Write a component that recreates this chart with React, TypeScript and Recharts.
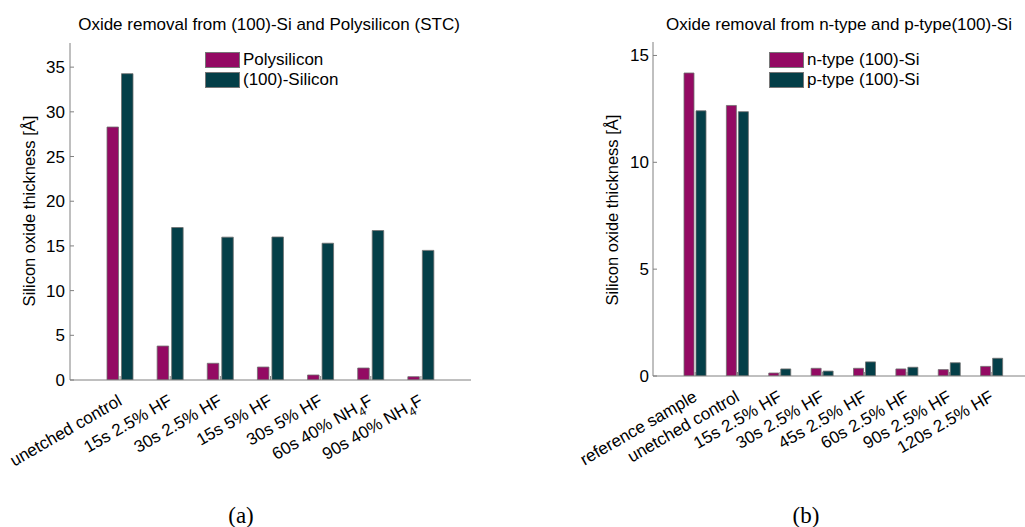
import React from 'react';
import { BarChart, Bar, XAxis, YAxis, Legend } from 'recharts';

const leftCategories = ['unetched control', '15s 2.5% HF', '30s 2.5% HF', '15s 5% HF', '30s 5% HF', '60s 40% NH4F', '90s 40% NH4F'];
const polysilicon = [28.3, 3.8, 1.87, 1.45, 0.56, 1.34, 0.37];
const silicon100 = [34.27, 17.06, 15.98, 16.0, 15.3, 16.72, 14.5];
const leftYTicks = [0, 5, 10, 15, 20, 25, 30, 35];
const leftSeriesNames = ['Polysilicon', '(100)-Silicon'];

const rightCategories = ['reference sample', 'unetched control', '15s 2.5% HF', '30s 2.5% HF', '45s 2.5% HF', '60s 2.5% HF', '90s 2.5% HF', '120s 2.5% HF'];
const nType = [14.18, 12.66, 0.14, 0.36, 0.36, 0.33, 0.3, 0.45];
const pType = [12.41, 12.37, 0.33, 0.23, 0.66, 0.41, 0.62, 0.83];
const rightYTicks = [0, 5, 10, 15];
const rightSeriesNames = ['n-type (100)-Si', 'p-type (100)-Si'];

const MAGENTA = '#930a63';
const TEAL = '#043f48';
const AXIS = '#808080';
const FONT = '"Liberation Sans", Arial, Helvetica, sans-serif';
const FS = 17;

const leftData = leftCategories.map((c, i) => ({ name: c, poly: polysilicon[i], si: silicon100[i] }));
const rightData = rightCategories.map((c, i) => ({ name: c, n: nType[i], p: pType[i] }));

const XTick = (props: any) => {
  const { x, y, payload } = props;
  const label: string = String(payload.value);
  const ax = x + 3;
  const ay = y + 14;
  const idx = label.indexOf('NH4F');
  return (
    <text
      x={ax}
      y={ay}
      transform={`rotate(-30, ${ax}, ${ay})`}
      textAnchor="end"
      fontSize={FS}
      fontFamily={FONT}
      fill="#000"
    >
      {idx >= 0 ? (
        <>
          {label.slice(0, idx) + 'NH'}
          <tspan fontSize={12} dy={5}>4</tspan>
          <tspan dy={-5}>F</tspan>
        </>
      ) : (
        label
      )}
    </text>
  );
};

const LegendContent = (props: any) => {
  const { payload, order } = props;
  const items = [...(payload || [])].sort(
    (a: any, b: any) => order.indexOf(a.value) - order.indexOf(b.value)
  );
  return (
    <div style={{ fontFamily: FONT, fontSize: FS, lineHeight: '20px' }}>
      {items.map((p: any) => (
        <div key={p.value} style={{ display: 'flex', alignItems: 'center', height: 20 }}>
          <span
            style={{
              display: 'inline-block',
              width: 33,
              height: 14,
              background: p.color,
              border: '1px solid #777',
              marginRight: 3,
            }}
          />
          <span style={{ color: '#000' }}>{p.value}</span>
        </div>
      ))}
    </div>
  );
};

const tickStyle = { fontSize: FS, fontFamily: FONT, fill: '#000' };

export default function App() {
  return (
    <div style={{ position: 'absolute', left: 0, top: 0, width: 1025, height: 527, overflow: 'hidden', background: '#fff' }}>
      <div style={{ position: 'absolute', left: 0, top: 0 }}>
        <BarChart
          width={500}
          height={527}
          data={leftData}
          margin={{ top: 43, right: 29, bottom: 67, left: 10 }}
          barSize={11.5}
          barGap={3}
        >
          <XAxis
            dataKey="name"
            xAxisId="bottom"
            height={80}
            interval={0}
            padding={{ left: 25, right: 25 }}
            tickSize={-4}
            tickMargin={14}
            tick={<XTick />}
            axisLine={{ stroke: AXIS }}
            tickLine={{ stroke: AXIS }}
          />
          <XAxis
            dataKey="name"
            xAxisId="top"
            orientation="top"
            height={0}
            interval={0}
            padding={{ left: 25, right: 25 }}
            tickSize={-4}
            tick={false}
            axisLine={{ stroke: AXIS }}
            tickLine={{ stroke: AXIS }}
          />
          <YAxis
            yAxisId="left"
            type="number"
            width={60}
            domain={[0, 37.7]}
            ticks={leftYTicks}
            allowDataOverflow
            tickSize={-4}
            tickMargin={9}
            tick={tickStyle}
            axisLine={{ stroke: AXIS }}
            tickLine={{ stroke: AXIS }}
          />
          <YAxis
            yAxisId="right"
            orientation="right"
            type="number"
            width={0}
            domain={[0, 37.7]}
            ticks={leftYTicks}
            allowDataOverflow
            tickSize={-4}
            tick={false}
            axisLine={{ stroke: AXIS }}
            tickLine={{ stroke: AXIS }}
          />
          <Legend
            layout="vertical"
            align="center"
            verticalAlign="middle"
            content={<LegendContent order={leftSeriesNames} />}
            wrapperStyle={{ left: 205, top: 50, width: 'auto', height: 'auto' }}
          />
          <Bar dataKey="poly" name={leftSeriesNames[0]} xAxisId="bottom" yAxisId="left" fill={MAGENTA} stroke="#6e6e6e" strokeWidth={0.8} isAnimationActive={false} />
          <Bar dataKey="si" name={leftSeriesNames[1]} xAxisId="bottom" yAxisId="left" fill={TEAL} stroke="#6e6e6e" strokeWidth={0.8} isAnimationActive={false} />
        </BarChart>
      </div>
      <div style={{ position: 'absolute', left: 560, top: 0 }}>
        <BarChart
          width={500}
          height={527}
          data={rightData}
          margin={{ top: 42, right: 26, bottom: 71, left: 33 }}
          barSize={10}
          barGap={2}
        >
          <XAxis
            dataKey="name"
            xAxisId="bottom"
            height={80}
            interval={0}
            padding={{ left: 21, right: 21 }}
            tickSize={-4}
            tickMargin={14}
            tick={<XTick />}
            axisLine={{ stroke: AXIS }}
            tickLine={{ stroke: AXIS }}
          />
          <XAxis
            dataKey="name"
            xAxisId="top"
            orientation="top"
            height={0}
            interval={0}
            padding={{ left: 21, right: 21 }}
            tickSize={-4}
            tick={false}
            axisLine={{ stroke: AXIS }}
            tickLine={{ stroke: AXIS }}
          />
          <YAxis
            yAxisId="left"
            type="number"
            width={60}
            domain={[0, 15.63]}
            ticks={rightYTicks}
            allowDataOverflow
            tickSize={-4}
            tickMargin={8}
            tick={tickStyle}
            axisLine={{ stroke: AXIS }}
            tickLine={{ stroke: AXIS }}
          />
          <YAxis
            yAxisId="right"
            orientation="right"
            type="number"
            width={0}
            domain={[0, 15.63]}
            ticks={rightYTicks}
            allowDataOverflow
            tickSize={-4}
            tick={false}
            axisLine={{ stroke: AXIS }}
            tickLine={{ stroke: AXIS }}
          />
          <Legend
            layout="vertical"
            align="center"
            verticalAlign="middle"
            content={<LegendContent order={rightSeriesNames} />}
            wrapperStyle={{ left: 209, top: 50, width: 'auto', height: 'auto' }}
          />
          <Bar dataKey="n" name={rightSeriesNames[0]} xAxisId="bottom" yAxisId="left" fill={MAGENTA} stroke="#6e6e6e" strokeWidth={0.8} isAnimationActive={false} />
          <Bar dataKey="p" name={rightSeriesNames[1]} xAxisId="bottom" yAxisId="left" fill={TEAL} stroke="#6e6e6e" strokeWidth={0.8} isAnimationActive={false} />
        </BarChart>
      </div>
      <svg width={1025} height={527} style={{ position: 'absolute', left: 0, top: 0, pointerEvents: 'none' }}>
        <text x={269} y={30} textAnchor="middle" fontSize={FS} fontFamily={FONT} fill="#000">
          Oxide removal from (100)-Si and Polysilicon (STC)
        </text>
        <text x={839} y={30} textAnchor="middle" fontSize={FS} fontFamily={FONT} fill="#000">
          Oxide removal from n-type and p-type(100)-Si
        </text>
        <text x={35} y={211} transform="rotate(-90, 35, 211)" textAnchor="middle" fontSize={16.5} fontFamily={FONT} fill="#000">
          Silicon oxide thickness [Å]
        </text>
        <text x={618} y={210} transform="rotate(-90, 618, 210)" textAnchor="middle" fontSize={16.5} fontFamily={FONT} fill="#000">
          Silicon oxide thickness [Å]
        </text>
        <text x={241} y={523} textAnchor="middle" fontSize={23} fontFamily='"Liberation Serif", "DejaVu Serif", serif' fill="#000">
          (a)
        </text>
        <text x={806} y={523} textAnchor="middle" fontSize={23} fontFamily='"Liberation Serif", "DejaVu Serif", serif' fill="#000">
          (b)
        </text>
      </svg>
    </div>
  );
}
